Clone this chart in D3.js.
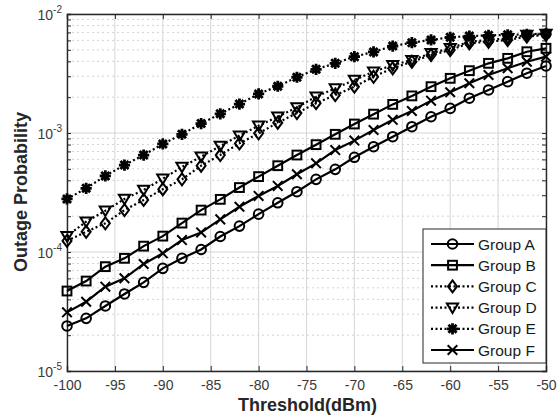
<!DOCTYPE html>
<html>
<head>
<meta charset="utf-8">
<script src="https://cdn.jsdelivr.net/npm/d3@7"></script>
<style>
  body { margin: 0; background: #fff; }
  text { font-family: "Liberation Sans", Arial, sans-serif; }
</style>
</head>
<body>
<script>
// data (threshold in dBm, outage probability)
var threshold = [-100, -98, -96, -94, -92, -90, -88, -86, -84, -82, -80, -78, -76,
                 -74, -72, -70, -68, -66, -64, -62, -60, -58, -56, -54, -52, -50];

var groupA = [2.39e-5, 2.77e-5, 3.52e-5, 4.44e-5, 5.56e-5, 7.29e-5, 8.85e-5, 1.05e-4, 1.35e-4,
              1.65e-4, 2.08e-4, 2.59e-4, 3.21e-4, 4.08e-4, 4.95e-4, 6.25e-4, 7.67e-4, 9.31e-4,
              1.13e-3, 1.37e-3, 1.61e-3, 1.96e-3, 2.30e-3, 2.70e-3, 3.18e-3, 3.66e-3];
var groupB = [4.70e-5, 5.70e-5, 7.53e-5, 8.85e-5, 1.12e-4, 1.36e-4, 1.75e-4, 2.25e-4, 2.77e-4,
              3.48e-4, 4.30e-4, 5.31e-4, 6.53e-4, 7.98e-4, 9.75e-4, 1.19e-3, 1.44e-3, 1.74e-3,
              2.05e-3, 2.45e-3, 2.88e-3, 3.34e-3, 3.85e-3, 4.24e-3, 4.82e-3, 5.15e-3];
var groupC = [1.24e-4, 1.48e-4, 1.74e-4, 2.25e-4, 2.74e-4, 3.37e-4, 4.08e-4, 5.31e-4, 6.53e-4,
              8.18e-4, 9.93e-4, 1.22e-3, 1.47e-3, 1.78e-3, 2.08e-3, 2.45e-3, 2.97e-3, 3.50e-3,
              3.97e-3, 4.52e-3, 4.98e-3, 5.68e-3, 5.85e-3, 6.05e-3, 6.46e-3, 6.67e-3];
var groupD = [1.36e-4, 1.80e-4, 2.22e-4, 2.79e-4, 3.32e-4, 4.13e-4, 5.18e-4, 6.32e-4, 7.78e-4,
              9.51e-4, 1.15e-3, 1.37e-3, 1.64e-3, 2.02e-3, 2.37e-3, 2.79e-3, 3.27e-3, 3.72e-3,
              4.10e-3, 4.68e-3, 5.15e-3, 5.85e-3, 6.05e-3, 6.25e-3, 6.67e-3, 6.79e-3];
var groupE = [2.79e-4, 3.43e-4, 4.36e-4, 5.38e-4, 6.53e-4, 8.09e-4, 9.75e-4, 1.20e-3, 1.45e-3,
              1.75e-3, 2.13e-3, 2.47e-3, 2.94e-3, 3.43e-3, 3.85e-3, 4.38e-3, 4.80e-3, 5.38e-3,
              5.74e-3, 6.05e-3, 6.37e-3, 6.53e-3, 6.61e-3, 6.68e-3, 6.76e-3, 6.84e-3];
var groupF = [3.11e-5, 3.82e-5, 5.11e-5, 6.01e-5, 7.93e-5, 9.75e-5, 1.26e-4, 1.46e-4, 1.88e-4,
              2.40e-4, 2.96e-4, 3.59e-4, 4.50e-4, 5.56e-4, 7.19e-4, 8.63e-4, 1.06e-3, 1.29e-3,
              1.53e-3, 1.87e-3, 2.20e-3, 2.62e-3, 3.07e-3, 3.50e-3, 3.97e-3, 4.38e-3];

var seriesNames = ["Group A", "Group B", "Group C", "Group D", "Group E", "Group F"];
var seriesValues = [groupA, groupB, groupC, groupD, groupE, groupF];
var seriesMarkers = ["circle", "square", "diamond", "triangle", "star", "cross"];
var seriesDashed = [false, false, true, true, true, false];

var xTicks = [-100, -95, -90, -85, -80, -75, -70, -65, -60, -55, -50];
var yTicks = [1e-5, 1e-4, 1e-3, 1e-2];
var yTickExps = ["-5", "-4", "-3", "-2"];

var width = 558, height = 418;
var mLeft = 67, mRight = 546, mTop = 14, mBottom = 371;

var svg = d3.select("body").append("svg")
    .attr("width", width)
    .attr("height", height);

var x = d3.scaleLinear().domain([-100, -50]).range([mLeft, mRight]);
var y = d3.scaleLog().domain([1e-5, 1e-2]).range([mBottom, mTop]);

// minor y grid (2..9 x 10^k)
var minor = [];
[1e-5, 1e-4, 1e-3].forEach(function(d) {
  for (var k = 2; k <= 9; k++) minor.push(d * k);
});

var grid = svg.append("g");
grid.selectAll("line.minor").data(minor).enter().append("line")
    .attr("x1", mLeft).attr("x2", mRight)
    .attr("y1", function(d) { return y(d); })
    .attr("y2", function(d) { return y(d); })
    .attr("stroke", "#d4d4d4")
    .attr("stroke-width", 1)
    .attr("stroke-dasharray", "2,3");
grid.selectAll("line.ymaj").data(yTicks).enter().append("line")
    .attr("x1", mLeft).attr("x2", mRight)
    .attr("y1", function(d) { return y(d); })
    .attr("y2", function(d) { return y(d); })
    .attr("stroke", "#d6d6d6");
grid.selectAll("line.xmaj").data(xTicks).enter().append("line")
    .attr("y1", mTop).attr("y2", mBottom)
    .attr("x1", function(d) { return x(d); })
    .attr("x2", function(d) { return x(d); })
    .attr("stroke", "#d6d6d6");

// axes (ticks inward, like matlab)
var axisColor = "#262626";
var xAxis = svg.append("g")
    .attr("transform", "translate(0," + mBottom + ")")
    .call(d3.axisBottom(x).tickValues(xTicks).tickSize(-5).tickPadding(9)
      .tickFormat(function(d) { return String(d); }));
var xAxisTop = svg.append("g")
    .attr("transform", "translate(0," + mTop + ")")
    .call(d3.axisTop(x).tickValues(xTicks).tickSize(-5).tickFormat(""));

var yAxis = svg.append("g")
    .attr("transform", "translate(" + mLeft + ",0)")
    .call(d3.axisLeft(y).tickValues(minor.concat(yTicks)).tickSize(-4).tickFormat(""));
var yAxisRight = svg.append("g")
    .attr("transform", "translate(" + mRight + ",0)")
    .call(d3.axisRight(y).tickValues(minor.concat(yTicks)).tickSize(-4).tickFormat(""));

[xAxis, xAxisTop, yAxis, yAxisRight].forEach(function(g) {
  g.select(".domain").attr("stroke", axisColor).attr("stroke-width", 1.4);
  g.selectAll(".tick line").attr("stroke", axisColor);
});
xAxis.selectAll(".tick text")
    .attr("fill", "#3a3a3a")
    .style("font-size", "14px")
    .style("font-family", "'Liberation Sans', Arial, sans-serif");

// y tick labels 10^k
var yLab = svg.append("g");
yTicks.forEach(function(d, i) {
  var t = yLab.append("text")
      .attr("x", mLeft - 5)
      .attr("y", y(d) + 6)
      .attr("text-anchor", "end")
      .attr("fill", "#3a3a3a")
      .style("font-size", "14px");
  t.append("tspan").text("10");
  t.append("tspan").attr("dy", -7).style("font-size", "10px").text(yTickExps[i]);
});

// axis titles
svg.append("text")
    .attr("x", (mLeft + mRight) / 2 + 1)
    .attr("y", 411)
    .attr("text-anchor", "middle")
    .attr("fill", "#262626")
    .style("font-size", "18px")
    .style("font-weight", "bold")
    .text("Threshold(dBm)");
svg.append("text")
    .attr("transform", "translate(27,192) rotate(-90)")
    .attr("text-anchor", "middle")
    .attr("fill", "#262626")
    .style("font-size", "18px")
    .style("font-weight", "bold")
    .text("Outage Probability");

// markers
function drawMarker(g, type, cx, cy) {
  var s;
  if (type === "circle") {
    g.append("circle").attr("cx", cx).attr("cy", cy).attr("r", 4.8)
        .attr("fill", "none").attr("stroke", "#000").attr("stroke-width", 2);
  } else if (type === "square") {
    g.append("rect").attr("x", cx - 4.4).attr("y", cy - 4.4).attr("width", 8.8).attr("height", 8.8)
        .attr("fill", "none").attr("stroke", "#000").attr("stroke-width", 2);
  } else if (type === "diamond") {
    s = 6;
    g.append("path")
        .attr("d", "M" + cx + "," + (cy - s) + "L" + (cx + s * 0.75) + "," + cy + "L" + cx + "," + (cy + s) + "L" + (cx - s * 0.75) + "," + cy + "Z")
        .attr("fill", "none").attr("stroke", "#000").attr("stroke-width", 2);
  } else if (type === "triangle") {
    s = 5.6;
    g.append("path")
        .attr("d", "M" + (cx - s) + "," + (cy - s * 0.75) + "L" + (cx + s) + "," + (cy - s * 0.75) + "L" + cx + "," + (cy + s * 0.95) + "Z")
        .attr("fill", "none").attr("stroke", "#000").attr("stroke-width", 2);
  } else if (type === "star") {
    s = 5.6;
    var d2 = s * 0.72;
    g.append("path")
        .attr("d", "M" + (cx - s) + "," + cy + "L" + (cx + s) + "," + cy +
                   "M" + cx + "," + (cy - s) + "L" + cx + "," + (cy + s) +
                   "M" + (cx - d2) + "," + (cy - d2) + "L" + (cx + d2) + "," + (cy + d2) +
                   "M" + (cx - d2) + "," + (cy + d2) + "L" + (cx + d2) + "," + (cy - d2))
        .attr("fill", "none").attr("stroke", "#000").attr("stroke-width", 2.8);
  } else if (type === "cross") {
    s = 4.8;
    g.append("path")
        .attr("d", "M" + (cx - s) + "," + (cy - s) + "L" + (cx + s) + "," + (cy + s) +
                   "M" + (cx - s) + "," + (cy + s) + "L" + (cx + s) + "," + (cy - s))
        .attr("fill", "none").attr("stroke", "#000").attr("stroke-width", 2);
  }
}

var line = d3.line()
    .x(function(d) { return x(d[0]); })
    .y(function(d) { return y(d[1]); });

var plot = svg.append("g");
seriesValues.forEach(function(vals, i) {
  var pts = threshold.map(function(t, j) { return [t, vals[j]]; });
  var g = plot.append("g");
  g.append("path")
      .datum(pts)
      .attr("d", line)
      .attr("fill", "none")
      .attr("stroke", "#000")
      .attr("stroke-width", 2.2)
      .attr("stroke-dasharray", seriesDashed[i] ? "2,2.5" : null);
  pts.forEach(function(p) {
    drawMarker(g, seriesMarkers[i], x(p[0]), y(p[1]));
  });
});

// legend
var lg = svg.append("g");
lg.append("rect")
    .attr("x", 423).attr("y", 229)
    .attr("width", 123).attr("height", 134)
    .attr("fill", "#fff")
    .attr("stroke", "#262626")
    .attr("stroke-width", 1);
seriesNames.forEach(function(name, i) {
  var ly = 244 + i * 21.2;
  lg.append("line")
      .attr("x1", 431).attr("x2", 474)
      .attr("y1", ly).attr("y2", ly)
      .attr("stroke", "#000")
      .attr("stroke-width", 2.2)
      .attr("stroke-dasharray", seriesDashed[i] ? "2,2.5" : null);
  drawMarker(lg, seriesMarkers[i], 452.5, ly);
  lg.append("text")
      .attr("x", 478)
      .attr("y", ly + 5.5)
      .attr("fill", "#1a1a1a")
      .style("font-size", "15.5px")
      .text(name);
});
</script>
</body>
</html>
